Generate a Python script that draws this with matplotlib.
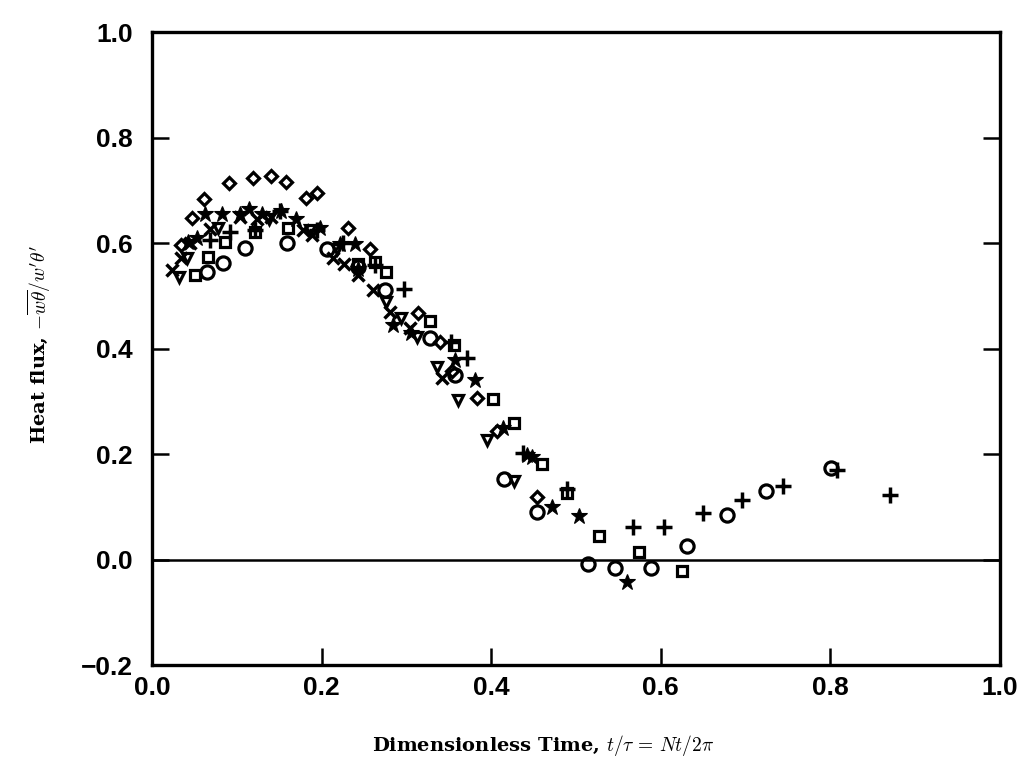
import numpy as np
import matplotlib.pyplot as plt

plt.rcParams['mathtext.fontset'] = 'cm'

# data, one list per symbol
circ_x = [0.065, 0.084, 0.110, 0.159, 0.206, 0.243, 0.275, 0.328, 0.357, 0.415, 0.454,
          0.514, 0.546, 0.588, 0.631, 0.678, 0.724, 0.801]
circ_y = [0.545, 0.563, 0.591, 0.600, 0.589, 0.555, 0.511, 0.420, 0.350, 0.152, 0.091,
          -0.008, -0.017, -0.017, 0.025, 0.085, 0.129, 0.174]

sq_x = [0.051, 0.066, 0.086, 0.121, 0.160, 0.243, 0.263, 0.276, 0.328, 0.356, 0.402,
        0.427, 0.460, 0.489, 0.527, 0.574, 0.625]
sq_y = [0.540, 0.574, 0.602, 0.621, 0.629, 0.560, 0.565, 0.545, 0.453, 0.407, 0.305,
        0.258, 0.182, 0.127, 0.044, 0.015, -0.021]

dia_x = [0.034, 0.047, 0.061, 0.091, 0.119, 0.140, 0.158, 0.182, 0.195, 0.231, 0.257,
         0.314, 0.340, 0.354, 0.383, 0.407, 0.454]
dia_y = [0.597, 0.648, 0.684, 0.714, 0.724, 0.728, 0.716, 0.686, 0.695, 0.629, 0.589,
         0.468, 0.413, 0.357, 0.307, 0.243, 0.119]

tri_x = [0.032, 0.041, 0.078, 0.138, 0.186, 0.218, 0.276, 0.294, 0.313, 0.336, 0.361,
         0.395, 0.427]
tri_y = [0.536, 0.572, 0.629, 0.645, 0.625, 0.588, 0.489, 0.458, 0.422, 0.365, 0.303,
         0.226, 0.148]

cross_x = [0.024, 0.034, 0.045, 0.068, 0.104, 0.124, 0.140, 0.178, 0.189, 0.213, 0.226,
           0.243, 0.261, 0.281, 0.304, 0.342]
cross_y = [0.549, 0.572, 0.600, 0.626, 0.650, 0.645, 0.650, 0.625, 0.616, 0.572, 0.560,
           0.540, 0.511, 0.470, 0.439, 0.345]

plus_x = [0.068, 0.092, 0.121, 0.151, 0.195, 0.225, 0.263, 0.297, 0.353, 0.371, 0.437,
          0.489, 0.567, 0.604, 0.650, 0.696, 0.744, 0.808, 0.870]
plus_y = [0.605, 0.621, 0.625, 0.660, 0.625, 0.600, 0.559, 0.513, 0.412, 0.383, 0.202,
          0.133, 0.062, 0.062, 0.089, 0.112, 0.140, 0.169, 0.123]

star_x = [0.042, 0.053, 0.062, 0.083, 0.104, 0.115, 0.130, 0.152, 0.170, 0.198, 0.222,
          0.239, 0.243, 0.284, 0.305, 0.357, 0.381, 0.414, 0.442, 0.448, 0.472, 0.504, 0.560]
star_y = [0.602, 0.610, 0.656, 0.656, 0.656, 0.665, 0.656, 0.661, 0.645, 0.628, 0.598,
          0.598, 0.550, 0.445, 0.430, 0.379, 0.341, 0.250, 0.199, 0.195, 0.100, 0.083, -0.042]

fig = plt.figure(figsize=(10.24, 7.82), dpi=100)
ax = fig.add_axes([0.1484, 0.1496, 0.8282, 0.8094])

ew = 2.3
ax.plot(circ_x, circ_y, 'o', ms=9.5, mfc='none', mec='k', mew=ew)
ax.plot(sq_x, sq_y, 's', ms=6.5, mfc='none', mec='k', mew=ew)
ax.plot(dia_x, dia_y, 'D', ms=6.5, mfc='none', mec='k', mew=ew)
ax.plot(tri_x, tri_y, 'v', ms=6.5, mfc='none', mec='k', mew=ew)
ax.plot(cross_x, cross_y, 'x', ms=9, mec='k', mew=2.5)
ax.plot(plus_x, plus_y, '+', ms=11, mec='k', mew=2.5)
ax.plot(star_x, star_y, '*', ms=12, mfc='k', mec='k', mew=0.8)

ax.axhline(0, color='k', lw=1.8)

ax.set_xlim(0, 1.0)
ax.set_ylim(-0.2, 1.0)
ax.set_xticks(np.arange(0, 1.01, 0.2))
ax.set_yticks(np.arange(-0.2, 1.01, 0.2))
ax.xaxis.set_major_formatter(plt.FuncFormatter(lambda v, p: f'{v:.1f}'))
ax.yaxis.set_major_formatter(plt.FuncFormatter(lambda v, p: f'{v:.1f}'.replace('-', '\u2212')))
ax.tick_params(direction='in', length=12, width=1.8, right=True)
ax.tick_params(axis='y', pad=14)
ax.tick_params(axis='x', pad=8)
for lab in ax.get_xticklabels() + ax.get_yticklabels():
    lab.set_fontfamily('Liberation Sans')
    lab.set_fontweight('bold')
    lab.set_fontsize(19)
for s in ax.spines.values():
    s.set_linewidth(2.4)

fig.text(0.530, 0.047, r'Dimensionless Time, $t/\tau\, =\, Nt/2\pi$', ha='center', va='center',
         family='DejaVu Serif', fontweight='bold', fontsize=14)
fig.text(0.038, 0.560, r"Heat flux, $-\overline{w\theta}/w'\theta'$", ha='center', va='center',
         rotation=90, family='DejaVu Serif', fontweight='bold', fontsize=14)

fig.savefig('out.png', dpi=100)
